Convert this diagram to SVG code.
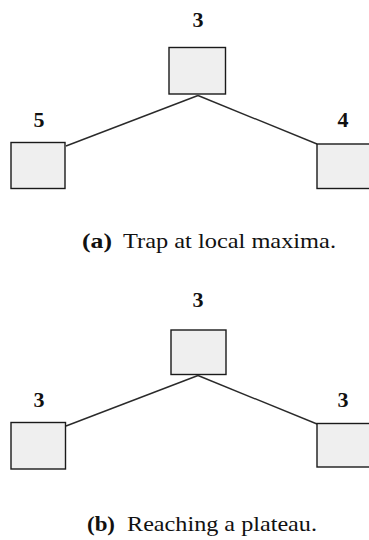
<svg xmlns="http://www.w3.org/2000/svg" width="369" height="540" viewBox="0 0 369 540">
<style>
.box{fill:#efefef;stroke:#1a1a1a;stroke-width:1.4}
.edge{stroke:#2a2a2a;stroke-width:1.4;fill:none}
.val{font-family:"Liberation Serif",serif;font-weight:bold;font-size:22px;fill:#111;text-anchor:middle}
.cap{font-family:"Liberation Serif",serif;font-size:22px;fill:#111}
.capb{font-family:"Liberation Serif",serif;font-size:22px;font-weight:bold;fill:#111}
</style>
<rect width="369" height="540" fill="#ffffff"/>
<g id="connectors">
<line class="edge" x1="198" y1="95.5" x2="66" y2="146"/>
<line class="edge" x1="198" y1="95.5" x2="317" y2="144"/>
<line class="edge" x1="198" y1="375.5" x2="66" y2="426"/>
<line class="edge" x1="198" y1="375.5" x2="317" y2="424"/>
</g>
<g id="a-top"><rect class="box" x="169" y="47.5" width="56.5" height="46.5"/><text class="val" x="198" y="27">3</text></g>
<g id="a-left"><rect class="box" x="11" y="142.5" width="54" height="46"/><text class="val" x="39" y="127">5</text></g>
<g id="a-right"><rect class="box" x="317" y="144" width="60" height="44.5"/><text class="val" x="343" y="127">4</text></g>
<g id="a-caption">
<text class="capb" x="82" y="247.5" textLength="30" lengthAdjust="spacingAndGlyphs">(a)</text>
<text class="cap" x="123" y="247.5" textLength="213" lengthAdjust="spacingAndGlyphs">Trap at local maxima.</text>
</g>
<g id="b-top"><rect class="box" x="171" y="330" width="55" height="44.5"/><text class="val" x="198" y="306.5">3</text></g>
<g id="b-left"><rect class="box" x="11" y="422.5" width="54.5" height="46.5"/><text class="val" x="39" y="406.5">3</text></g>
<g id="b-right"><rect class="box" x="317" y="423.5" width="60" height="43.5"/><text class="val" x="343" y="406.5">3</text></g>
<g id="b-caption">
<text class="capb" x="87" y="530.5" textLength="28" lengthAdjust="spacingAndGlyphs">(b)</text>
<text class="cap" x="127" y="530.5" textLength="190" lengthAdjust="spacingAndGlyphs">Reaching a plateau.</text>
</g>
</svg>
